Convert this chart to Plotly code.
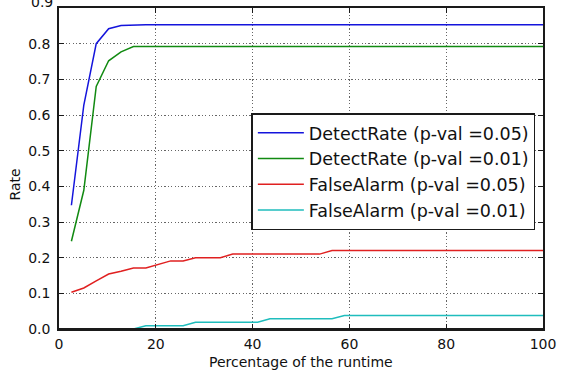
import plotly.graph_objects as go

# Percentage of the runtime (x positions)
runtime_pct = [2.564, 5.128, 7.692, 10.256, 12.821, 15.385, 17.949, 20.513, 23.077, 25.641,
               28.205, 30.769, 33.333, 35.897, 38.462, 41.026, 43.590, 46.154, 48.718, 51.282,
               53.846, 56.410, 58.974, 61.538, 64.103, 66.667, 69.231, 71.795, 74.359, 76.923,
               79.487, 82.051, 84.615, 87.179, 89.744, 92.308, 94.872, 97.436, 100.0]

detect_005 = [0.347, 0.628, 0.800, 0.842, 0.851] + [0.853] * 34
detect_001 = [0.246, 0.389, 0.680, 0.752, 0.777, 0.792] + [0.792] * 33
false_005 = [0.103, 0.115, 0.135, 0.154, 0.162, 0.171, 0.171, 0.181, 0.191, 0.191,
             0.200, 0.200, 0.200, 0.210, 0.210, 0.210, 0.210, 0.210, 0.210, 0.210,
             0.210] + [0.220] * 18
false_001 = [0.0, 0.0, 0.0, 0.0, 0.0, 0.0, 0.009, 0.009, 0.009, 0.009,
             0.019, 0.019, 0.019, 0.019, 0.019, 0.019, 0.029, 0.029, 0.029, 0.029,
             0.029, 0.029] + [0.038] * 17

series_names = ["DetectRate (p-val =0.05)", "DetectRate (p-val =0.01)",
                "FalseAlarm (p-val =0.05)", "FalseAlarm (p-val =0.01)"]
series_values = [detect_005, detect_001, false_005, false_001]
series_colors = ["#1414dc", "#118a11", "#e02020", "#1fbdbd"]

x_ticks = [0, 20, 40, 60, 80, 100]
y_ticks = [0.0, 0.1, 0.2, 0.3, 0.4, 0.5, 0.6, 0.7, 0.8, 0.9]

FONT = "DejaVu Sans"
FRAME = "#1a1a1a"

fig = go.Figure()
for name, vals, col in zip(series_names, series_values, series_colors):
    fig.add_trace(go.Scatter(x=runtime_pct, y=vals, mode="lines", name=name,
                             legendgroup=name,
                             line=dict(color=col, width=1.5)))

axis_common = dict(
    showline=True, linecolor=FRAME, linewidth=1.6, mirror="allticks",
    ticks="inside", ticklen=5, tickwidth=1, tickcolor=FRAME,
    showgrid=True, gridcolor="#666666", gridwidth=1, griddash="1.2px,2.2px",
    zeroline=False, tickfont=dict(family=FONT, size=14, color="#111111"),
)

# the top tick label (0.9) sits on the cropped top edge, half cut off
top_label = dict(text=f"{y_ticks[-1]:.1f}", xref="paper", yref="y", x=0, y=y_ticks[-1],
                 xanchor="right", yanchor="middle", xshift=-4, yshift=6, showarrow=False,
                 font=dict(family=FONT, size=14, color="#111111"))

fig.update_layout(
    width=562, height=374,
    margin=dict(l=59, r=19, t=6, b=45),
    paper_bgcolor="white", plot_bgcolor="white",
    font=dict(family=FONT, color="#111111"),
    xaxis=dict(range=[0, 100], tickvals=x_ticks, ticktext=[str(v) for v in x_ticks],
               ticklabelstandoff=1, **axis_common),
    yaxis=dict(range=[0, 0.9], tickvals=y_ticks[:-1],
               ticktext=[f"{v:.1f}" for v in y_ticks[:-1]],
               ticklabelstandoff=4, **axis_common),
    legend=dict(x=0.984, xanchor="right", y=0.672, yanchor="top",
                bgcolor="white", bordercolor=FRAME, borderwidth=1.6,
                font=dict(family=FONT, size=17.5, color="#111111"),
                itemwidth=46, tracegroupgap=1.5, traceorder="normal"),
    showlegend=True,
    shapes=[
        # bottom spine drawn over the plot area (matplotlib-style axis on top)
        dict(type="line", xref="paper", yref="paper", x0=0, x1=1, y0=0, y1=0,
             line=dict(color=FRAME, width=2.2), layer="above"),
    ],
    annotations=[
        top_label,
        dict(text="Percentage of the runtime", xref="paper", yref="paper",
             x=0.5, y=-0.102, yanchor="middle", xanchor="center", showarrow=False,
             font=dict(family=FONT, size=14, color="#111111")),
        dict(text="Rate", xref="paper", yref="paper", x=-0.091, xanchor="center",
             y=0.45, yanchor="middle", textangle=-90, showarrow=False,
             font=dict(family=FONT, size=14, color="#111111")),
    ],
)

fig.write_html("out.html")
